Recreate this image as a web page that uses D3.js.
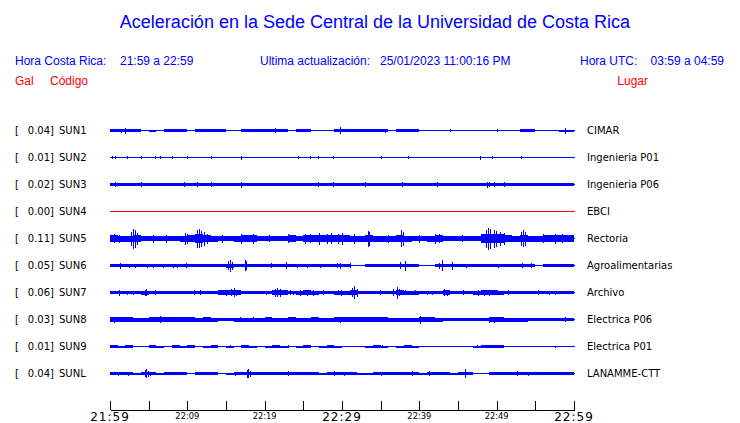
<!DOCTYPE html>
<html><head><meta charset="utf-8">
<script src="https://cdn.jsdelivr.net/npm/d3@7"></script>
<style>
html,body{margin:0;padding:0;background:#fff;}
svg{display:block;}
</style></head>
<body>
<svg id="chart" width="740" height="423"></svg>
<script>
// ---------- data ----------
const title = "Aceleración en la Sede Central de la Universidad de Costa Rica";
const headerLocalLabel = "Hora Costa Rica:";
const headerLocalRange = "21:59 a 22:59";
const headerUpdateLabel = "Ultima actualización:";
const headerUpdateValue = "25/01/2023 11:00:16 PM";
const headerUtcLabel = "Hora UTC:";
const headerUtcRange = "03:59 a 04:59";

const codes  = ["SUN1","SUN2","SUN3","SUN4","SUN5","SUN6","SUN7","SUN8","SUN9","SUNL"];
const peaks  = [0.04, 0.01, 0.02, 0.00, 0.11, 0.05, 0.06, 0.03, 0.01, 0.04];   // Gal
const places = ["CIMAR","Ingenieria P01","Ingenieria P06","EBCI","Rectoria","Agroalimentarias","Archivo","Electrica P06","Electrica P01","LANAMME-CTT"];

// time axis: minutes after 21:59
const tickMinutes = [0,5,10,15,20,25,30,35,40,45,50,55,60];
const labelMinutes = [0,10,20,30,40,50,60];
const tickLabels = ["21:59","22:09","22:19","22:29","22:39","22:49","22:59"];
const majorLabels = ["21:59","22:29","22:59"];

// envelope (half amplitude, Gal) per minute
const envSUN1 = [0.013,0.013,0.014,0.012,0.007,0.010,0.008,0.013,0.012,0.013,0.008,0.013,0.012,0.013,0.012,0.006,0.002,0.013,0.013,0.012,0.013,0.013,0.012,0.006,0.012,0.011,0.008,0.007,0.008,0.014,
                 0.013,0.013,0.013,0.012,0.013,0.012,0.005,0.013,0.013,0.012,0.008,0.007,0.003,0.009,0.008,0.009,0.008,0.009,0.009,0.008,0.008,0.007,0.008,0.013,0.013,0.008,0.006,0.006,0.010,0.010];
const envSUN2 = [0,0,0,0,0,0,0,0,0,0,0,0,0,0,0,0,0,0,0,0,0,0,0,0,0,0,0,0,0,0,0,0,0,0,0,0,0,0,0,0,0,0,0,0,0,0,0,0,0,0,0,0,0,0,0,0,0,0,0,0];
const envSUN3 = [0.017,0.017,0.017,0.017,0.017,0.017,0.017,0.017,0.017,0.017,0.017,0.017,0.017,0.017,0.017,0.017,0.017,0.017,0.017,0.017,0.017,0.017,0.017,0.017,0.017,0.017,0.017,0.017,0.017,0.017,
                 0.017,0.017,0.017,0.017,0.017,0.017,0.017,0.017,0.017,0.017,0.017,0.017,0.017,0.017,0.017,0.017,0.017,0.017,0.017,0.017,0.017,0.017,0.018,0.019,0.019,0.019,0.019,0.019,0.019,0.019];
const envSUN4 = [0,0,0,0,0,0,0,0,0,0,0,0,0,0,0,0,0,0,0,0,0,0,0,0,0,0,0,0,0,0,0,0,0,0,0,0,0,0,0,0,0,0,0,0,0,0,0,0,0,0,0,0,0,0,0,0,0,0,0,0];
const envSUN5 = [0.035,0.030,0.030,0.037,0.028,0.026,0.028,0.026,0.028,0.030,0.035,0.042,0.038,0.030,0.028,0.028,0.030,0.035,0.032,0.028,0.026,0.026,0.028,0.032,0.028,0.035,0.035,0.038,0.038,0.038,
                 0.035,0.030,0.030,0.037,0.030,0.030,0.030,0.035,0.030,0.028,0.026,0.030,0.035,0.028,0.026,0.028,0.026,0.028,0.042,0.047,0.042,0.035,0.030,0.038,0.030,0.030,0.035,0.035,0.035,0.035];
const envSUN6 = [0.015,0.015,0.012,0.012,0.014,0.013,0.012,0.013,0.012,0.016,0.014,0.013,0.013,0.013,0.013,0.020,0.014,0.018,0.013,0.012,0.013,0.016,0.014,0.012,0.012,0.012,0.013,0.012,0.013,0.016,
                 0.014,0.006,0.002,0.015,0.013,0.013,0.013,0.017,0.014,0.014,0.009,0.009,0.016,0.014,0.014,0.013,0.015,0.013,0.013,0.014,0.013,0.013,0.013,0.016,0.016,0.003,0.013,0.013,0.014,0.014];
const envSUN7 = [0.016,0.016,0.015,0.015,0.020,0.015,0.015,0.015,0.015,0.015,0.016,0.016,0.015,0.015,0.021,0.024,0.021,0.015,0.015,0.015,0.018,0.027,0.021,0.015,0.020,0.021,0.020,0.015,0.015,0.020,
                 0.020,0.024,0.018,0.015,0.015,0.018,0.015,0.024,0.020,0.020,0.015,0.016,0.015,0.021,0.015,0.018,0.015,0.020,0.021,0.021,0.020,0.016,0.015,0.015,0.015,0.018,0.015,0.016,0.015,0.015];
const envSUN8 = [0.026,0.026,0.024,0.020,0.020,0.021,0.022,0.021,0.021,0.021,0.021,0.020,0.021,0.020,0.014,0.018,0.020,0.020,0.020,0.020,0.021,0.020,0.020,0.021,0.020,0.020,0.021,0.020,0.020,0.022,
                 0.022,0.021,0.022,0.022,0.021,0.021,0.020,0.020,0.020,0.020,0.021,0.021,0.020,0.017,0.017,0.016,0.017,0.017,0.019,0.023,0.022,0.020,0.020,0.020,0.016,0.016,0.016,0.018,0.018,0.018];
const envSUN9 = [0.011,0.010,0.011,0.009,0.006,0.011,0.010,0.009,0.011,0.010,0.011,0.006,0.010,0.011,0.009,0.010,0.005,0.011,0.010,0.009,0.010,0.011,0.010,0.009,0.010,0.011,0.009,0.010,0.011,0.010,
                 0.009,0.003,0.004,0.010,0.011,0.010,0.006,0.010,0.011,0.010,0.007,0.003,0.006,0.007,0.006,0.007,0.006,0.010,0.011,0.012,0.011,0.006,0.007,0.006,0.008,0.003,0.003,0.004,0.003,0.004];
const envSUNL = [0.012,0.012,0.012,0.010,0.018,0.012,0.010,0.012,0.012,0.012,0.008,0.012,0.012,0.012,0.009,0.010,0.012,0.015,0.012,0.012,0.012,0.012,0.012,0.012,0.012,0.012,0.012,0.010,0.012,0.014,
                 0.016,0.012,0.010,0.010,0.012,0.016,0.012,0.012,0.012,0.014,0.010,0.012,0.012,0.012,0.010,0.014,0.012,0.006,0.008,0.012,0.012,0.012,0.012,0.014,0.012,0.012,0.013,0.013,0.013,0.013];

// isolated peaks: [minute, half amplitude in Gal]
const spkSUN1 = [[1.4,0.02],[2.0,0.03],[8.5,0.018],[12,0.018],[21.3,0.025],[29.7,0.035],[35.6,0.02],[44,0.015],[50,0.015],[58.8,0.03]];
const spkSUN2 = [[0.2,0.015],[0.6,0.012],[2.2,0.018],[4.0,0.015],[5.8,0.015],[6.5,0.015],[8.0,0.015],[10.0,0.015],[13.0,0.018],[17.0,0.02],[24.3,0.015],[25.9,0.018],[26.9,0.015],[28.9,0.018],[35.0,0.015],[38.5,0.015],[47.9,0.02],[49.4,0.015],[53.2,0.018]];
const spkSUN3 = [[0.6,0.025],[4.0,0.022],[9.6,0.022],[11.3,0.022],[13.0,0.025],[17.0,0.03],[26.9,0.025],[28.9,0.025],[33.0,0.028],[37.8,0.022],[42.3,0.022],[48.7,0.03],[49.0,0.028],[49.6,0.028],[51.0,0.025]];
const spkSUN4 = [];
const spkSUN5 = [[0.5,0.045],[1.2,0.04],[2.7,0.07],[3.0,0.1],[3.2,0.09],[3.5,0.06],[5.5,0.04],[7.3,0.04],[9.7,0.06],[10.0,0.05],[11.2,0.09],[11.5,0.095],[11.8,0.08],[12.2,0.07],[12.6,0.05],[14.5,0.04],[17.0,0.05],[18.5,0.05],[20.5,0.035],[23.0,0.045],[25.2,0.05],[25.8,0.045],[27.0,0.06],[28.0,0.05],[28.6,0.055],[29.5,0.05],[30.0,0.06],[31.5,0.05],[33.3,0.08],[33.5,0.07],[36.0,0.04],[37.6,0.085],[37.9,0.07],[40.0,0.04],[42.0,0.05],[42.5,0.045],[45.5,0.035],[48.6,0.09],[48.9,0.11],[49.2,0.1],[49.6,0.09],[49.9,0.08],[50.4,0.07],[51.0,0.06],[53.1,0.07],[53.4,0.085],[53.7,0.07],[56.0,0.045],[57.5,0.05],[58.5,0.045]];
const spkSUN6 = [[1.3,0.03],[2.5,0.02],[3.2,0.02],[4.8,0.02],[5.6,0.02],[6.8,0.02],[8.2,0.02],[8.7,0.02],[9.8,0.025],[11.6,0.018],[12.3,0.018],[13.0,0.018],[13.6,0.018],[14.2,0.018],[15.3,0.045],[15.5,0.06],[15.8,0.04],[17.4,0.055],[17.6,0.045],[20.8,0.025],[22.7,0.035],[24.2,0.02],[25.5,0.02],[27.2,0.02],[29.3,0.025],[29.8,0.03],[31.0,0.025],[37.5,0.035],[38.2,0.05],[42.5,0.03],[42.9,0.055],[44.2,0.04],[46.0,0.02],[50.2,0.02],[53.3,0.025],[54.5,0.025],[57.0,0.018],[58.5,0.018]];
const spkSUN7 = [[1.2,0.03],[2.2,0.02],[3.0,0.02],[4.5,0.03],[4.7,0.035],[5.8,0.025],[10.8,0.025],[11.6,0.025],[14.3,0.025],[15.0,0.03],[15.6,0.035],[16.0,0.045],[16.3,0.03],[20.2,0.02],[21.3,0.04],[21.6,0.045],[22.0,0.04],[23.3,0.025],[23.7,0.02],[24.6,0.03],[25.5,0.03],[26.3,0.03],[27.6,0.025],[29.5,0.025],[29.9,0.03],[31.3,0.045],[31.6,0.065],[31.9,0.04],[34.9,0.025],[36.6,0.035],[37.1,0.06],[37.4,0.035],[38.2,0.025],[39.5,0.025],[41.0,0.02],[41.6,0.02],[43.2,0.035],[43.6,0.03],[45.7,0.025],[47.6,0.03],[48.3,0.03],[49.0,0.03],[50.0,0.025],[51.5,0.025],[55.3,0.025],[56.8,0.02],[57.5,0.02]];
const spkSUN8 = [[0.5,0.03],[6.5,0.035],[8.0,0.025],[16.8,0.025],[18.5,0.022],[29.8,0.03],[34.0,0.025],[40.1,0.04],[49.0,0.03],[49.6,0.03],[50.5,0.025],[58.8,0.025]];
const spkSUN9 = [[2.0,0.015],[8.5,0.012],[15.5,0.012],[23,0.012],[35.2,0.012],[47.5,0.012],[49.8,0.015],[57.6,0.01]];
const spkSUNL = [[1.0,0.02],[2.3,0.02],[4.5,0.035],[4.7,0.045],[4.9,0.03],[5.2,0.02],[16.2,0.02],[17.7,0.04],[17.9,0.045],[18.1,0.03],[23.0,0.025],[29.0,0.025],[30.3,0.02],[35.0,0.02],[39.1,0.025],[41.2,0.025],[45.9,0.045],[52.6,0.025],[54.0,0.02]];

const envelopes = [envSUN1,envSUN2,envSUN3,envSUN4,envSUN5,envSUN6,envSUN7,envSUN8,envSUN9,envSUNL];
const spikes    = [spkSUN1,spkSUN2,spkSUN3,spkSUN4,spkSUN5,spkSUN6,spkSUN7,spkSUN8,spkSUN9,spkSUNL];

// ---------- drawing ----------
const BLUE = "#0000ff", RED = "#ff0000";
const svg = d3.select("#chart");

const x = d3.scaleLinear().domain([0, 60]).range([110, 574]);
const row = d3.scalePoint().domain(codes).range([130.5, 373.5]);
const amp = d3.scaleLinear().domain([0, 0.11]).range([0, 11]);

// title & header
const sans = "'Liberation Sans', Arial, Helvetica, sans-serif";
const dv = "'DejaVu Sans', sans-serif";
svg.append("text").attr("x", 375).attr("y", 28).attr("text-anchor","middle")
  .attr("font-family", sans).attr("font-size", 18).attr("fill", BLUE).text(title);

const hdr = [
  [headerLocalLabel, 15, "start"], [headerLocalRange, 120, "start"],
  [headerUpdateLabel, 260, "start"], [headerUpdateValue, 380, "start"],
  [headerUtcLabel, 580, "start"], [headerUtcRange, 724, "end"]
];
svg.selectAll("text.hdr").data(hdr).join("text").attr("class","hdr")
  .attr("x", d => d[1]).attr("y", 65).attr("text-anchor", d => d[2])
  .attr("font-family", sans).attr("font-size", 12).attr("fill", BLUE).text(d => d[0]);

const hdr2 = [["Gal", 15, "start"], ["Código", 50, "start"], ["Lugar", 648, "end"]];
svg.selectAll("text.hdr2").data(hdr2).join("text").attr("class","hdr2")
  .attr("x", d => d[1]).attr("y", 85).attr("text-anchor", d => d[2])
  .attr("font-family", sans).attr("font-size", 12).attr("fill", RED).text(d => d[0]);

// traces
const area = d3.area()
  .x(d => x(d[0]))
  .curve(d3.curveStepAfter);

codes.forEach((code, i) => {
  const y0 = row(code);
  const color = code === "SUN4" ? RED : BLUE;
  const g = svg.append("g").attr("shape-rendering", "crispEdges");
  const env = envelopes[i];
  const pts = env.map((v, k) => [k, v]).concat([[60, env[env.length - 1]]]);
  g.append("path").datum(pts)
    .attr("d", area.y0(d => y0 + amp(d[1])).y1(d => y0 - amp(d[1])))
    .attr("fill", color);
  g.append("line").attr("x1", x(0)).attr("x2", x(60) + 1)
    .attr("y1", y0).attr("y2", y0).attr("stroke", color).attr("stroke-width", 1);
  g.selectAll("line.spk").data(spikes[i]).join("line").attr("class","spk")
    .attr("x1", d => Math.round(x(d[0])) + 0.5).attr("x2", d => Math.round(x(d[0])) + 0.5)
    .attr("y1", d => y0 - amp(d[1])).attr("y2", d => y0 + amp(d[1]))
    .attr("stroke", color).attr("stroke-width", 1.5);

  // left labels
  svg.append("text").attr("x", 15).attr("y", y0).attr("dy", "0.35em")
    .attr("font-family", dv).attr("font-size", 10).attr("fill", "#000").text("[");
  svg.append("text").attr("x", 54).attr("y", y0).attr("dy", "0.35em").attr("text-anchor", "end")
    .attr("font-family", dv).attr("font-size", 10).attr("fill", "#000").text(d3.format(".2f")(peaks[i]) + "]");
  svg.append("text").attr("x", 59).attr("y", y0).attr("dy", "0.35em")
    .attr("font-family", dv).attr("font-size", 10).attr("fill", "#000").text(code);
  // right labels
  svg.append("text").attr("x", 587).attr("y", y0).attr("dy", "0.35em")
    .attr("font-family", dv).attr("font-size", 10).attr("fill", "#000").text(places[i]);
});

// time axis
const axis = d3.axisTop(x).tickValues(tickMinutes).tickSize(9).tickSizeOuter(0).tickFormat("");
const ax = svg.append("g").attr("transform", "translate(0,409.5)").attr("shape-rendering", "crispEdges").call(axis);
ax.select(".domain").attr("stroke", "#000").attr("stroke-width", 1);
ax.selectAll(".tick line").attr("stroke", "#000").attr("stroke-width", 1);

svg.selectAll("text.tl").data(labelMinutes).join("text").attr("class","tl")
  .attr("x", d => x(d)).attr("text-anchor", "middle")
  .attr("y", (d, i) => majorLabels.includes(tickLabels[i]) ? 421 : 419)
  .attr("font-family", dv)
  .attr("font-size", (d, i) => majorLabels.includes(tickLabels[i]) ? 12 : 8.3)
  .attr("letter-spacing", (d, i) => majorLabels.includes(tickLabels[i]) ? 1 : 0)
  .attr("fill", "#000")
  .text((d, i) => tickLabels[i]);
</script>
</body></html>
